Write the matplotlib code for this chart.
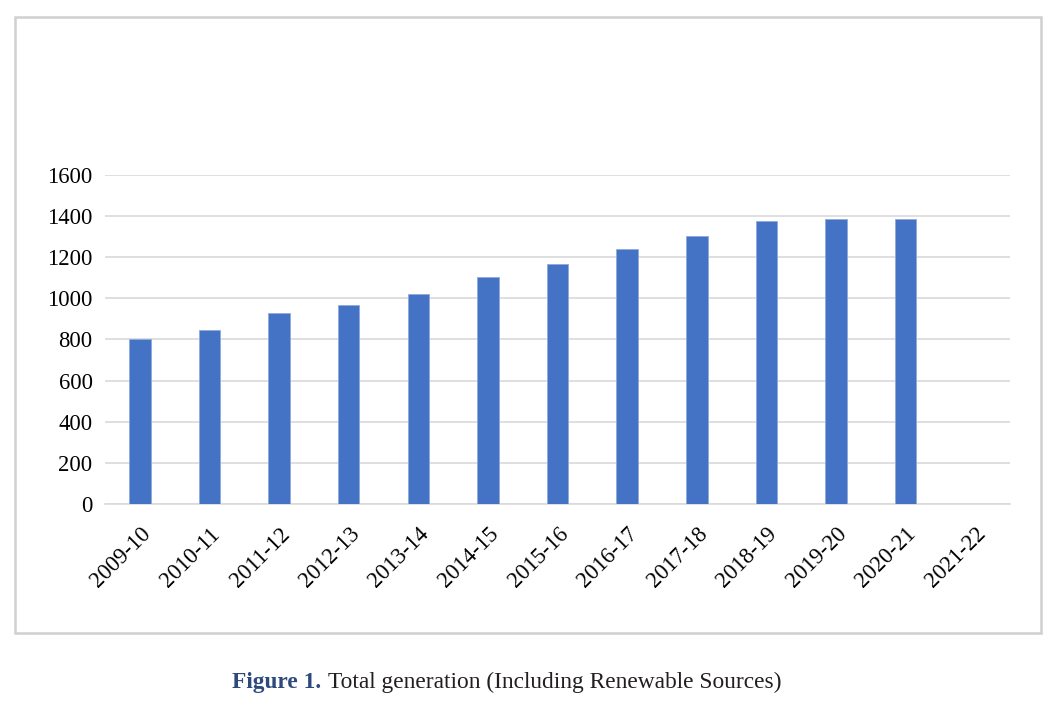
import numpy as np
import matplotlib.pyplot as plt
from matplotlib.patches import Rectangle

years = ["2009-10", "2010-11", "2011-12", "2012-13", "2013-14", "2014-15", "2015-16",
         "2016-17", "2017-18", "2018-19", "2019-20", "2020-21", "2021-22"]
generation = [802, 845, 928, 970, 1021, 1104, 1166, 1240, 1302, 1375, 1385, 1385, np.nan]

plt.rcParams['font.family'] = ['Liberation Serif', 'DejaVu Serif']

fig = plt.figure(figsize=(10.63, 7.05), dpi=100)
ax = fig.add_axes([0.0988, 0.2851, 0.8514, 0.4667])

x = np.arange(len(years))
ax.bar(x, generation, width=0.31, color="#4472C4", edgecolor="#8FAADC", linewidth=0.6, zorder=3)

ax.set_xlim(-0.5, len(years) - 0.5)
ax.set_ylim(0, 1600)
ax.set_yticks(np.arange(0, 1601, 200))
ax.grid(axis="y", color="#D9D9D9", linewidth=1.2, zorder=0)
ax.set_xticks(x)
ax.set_xticklabels(years, rotation=45, ha="right", rotation_mode="anchor")
ax.tick_params(axis="both", length=0, labelsize=16.3, colors="#000000")
ax.tick_params(axis="y", pad=9)
ax.tick_params(axis="x", pad=14)
for s in ["top", "right", "left"]:
    ax.spines[s].set_visible(False)
ax.spines["bottom"].set_color("#D9D9D9")
ax.spines["bottom"].set_linewidth(1.2)

# chart frame
fig.patches.append(Rectangle((15 / 1063, 72 / 705), 1026 / 1063, 616 / 705,
                             transform=fig.transFigure, fill=False,
                             edgecolor="#D0D0D0", linewidth=1.8))

fig.text(0.218, 0.024, "Figure 1.", fontsize=16.8, fontweight="bold", color="#2E4A7D",
         ha="left", va="baseline")
fig.text(0.309, 0.024, "Total generation (Including Renewable Sources)", fontsize=16.8,
         color="#231F20", ha="left", va="baseline")

fig.savefig("out.png", dpi=100)
